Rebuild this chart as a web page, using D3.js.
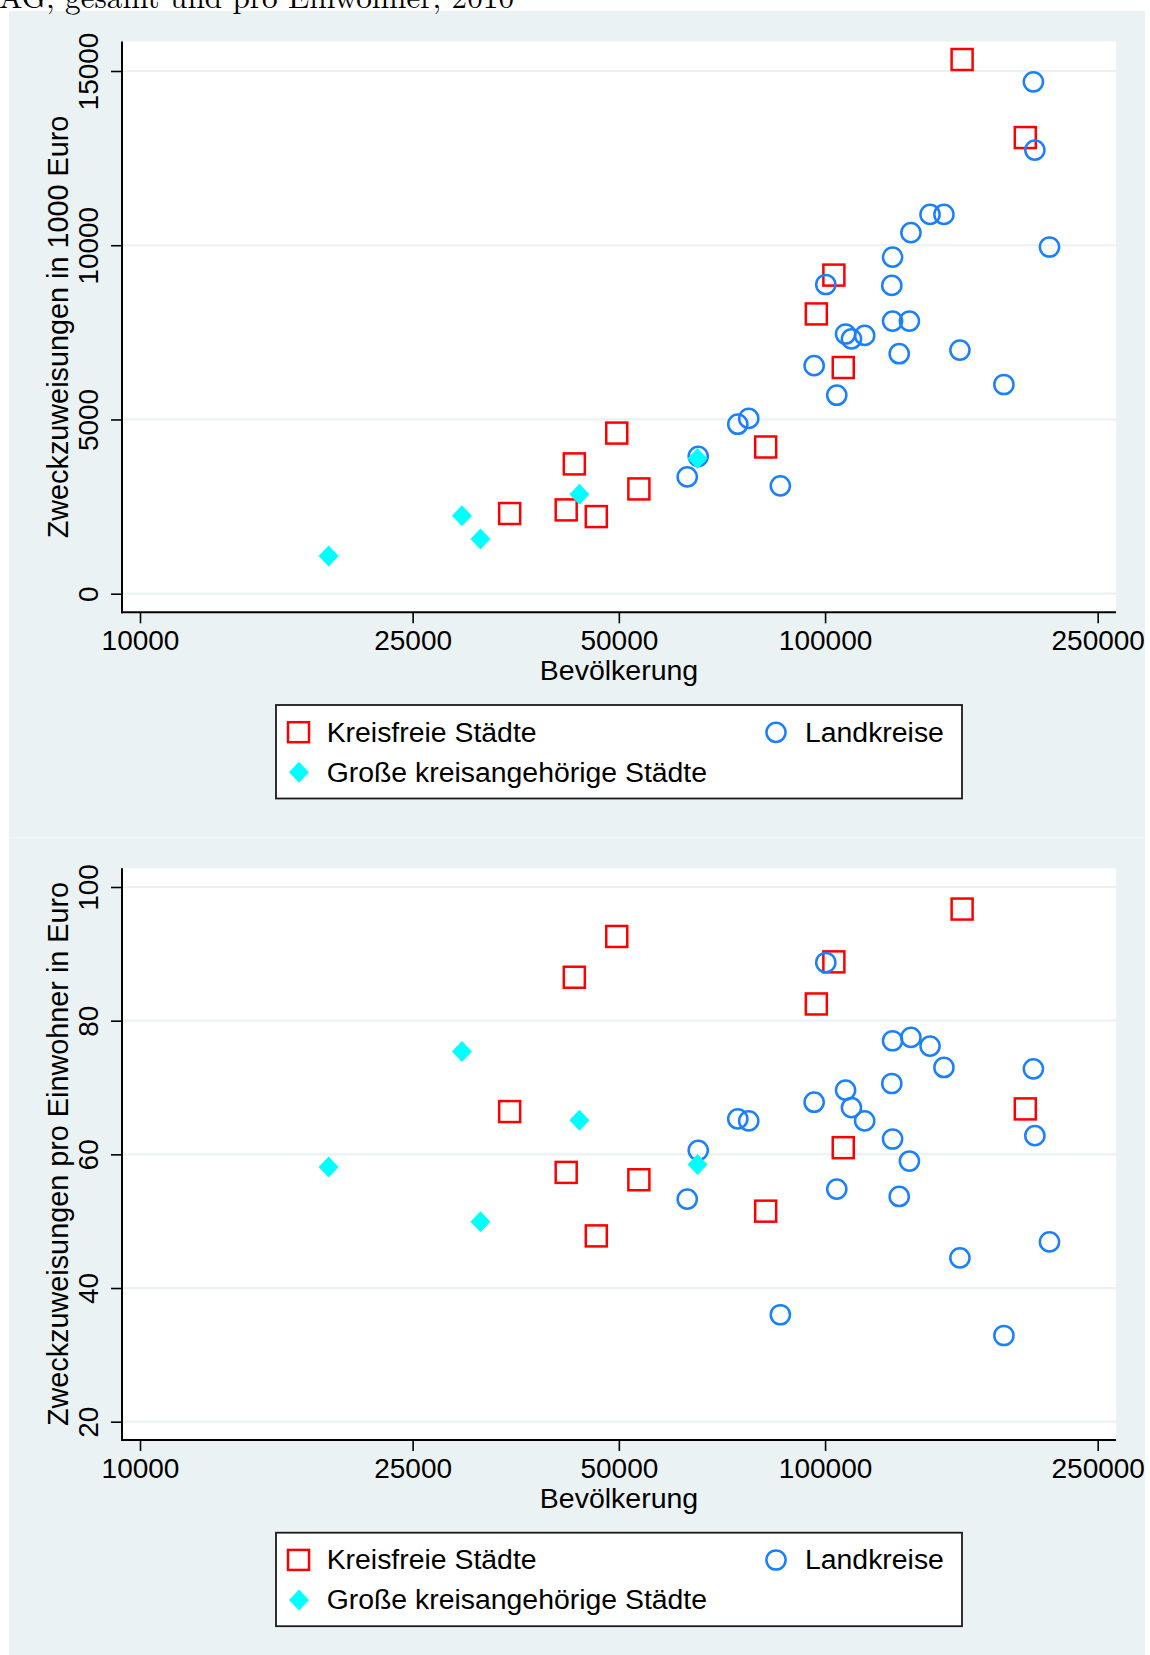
<!DOCTYPE html>
<html>
<head>
<meta charset="utf-8">
<script src="https://cdn.jsdelivr.net/npm/d3@7"></script>
<style>
  html, body { margin: 0; padding: 0; background: #ffffff; }
  svg { display: block; }
</style>
</head>
<body>
<svg id="chart" width="1150" height="1655"></svg>
<script>
// ---------------- data ----------------
const titleText = "AG, gesamt und pro Einwohner, 2010";
const seriesNames = ["Kreisfreie Städte", "Landkreise", "Große kreisangehörige Städte"];
const xTitle = "Bevölkerung";
const yTitleTop = "Zweckzuweisungen in 1000 Euro";
const yTitleBottom = "Zweckzuweisungen pro Einwohner in Euro";
const xTicks = [10000, 25000, 50000, 100000, 250000];
const yTicksTop = [0, 5000, 10000, 15000];
const yTicksBottom = [20, 40, 60, 80, 100];

// Kreisfreie Städte
const kfPop      = [158500, 196000, 103000, 97100, 106300, 49650, 43050, 81900, 53480, 34640, 41890, 46350];
const kfTotal    = [15330, 13090, 9143, 8029, 6491, 4609, 3725, 4210, 3007, 2301, 2405, 2213];
const kfPerCap   = [96.7, 66.8, 88.8, 82.5, 61.0, 92.6, 86.5, 51.5, 56.2, 66.4, 57.3, 47.8];

// Landkreise
const lkPop      = [201400, 202400, 212600, 142300, 149100, 133450, 125460, 100240, 125140, 125460, 132770, 107130,
                    109270, 114230, 128300, 157340, 96390, 104010, 182400, 74570, 77370, 65290, 62920, 86040];
const lkTotal    = [14690, 12730, 9949, 10885, 10885, 10360, 9657, 8873, 8847, 7823, 7823, 7453,
                    7312, 7412, 6887, 6991, 6543, 5696, 6003, 4864, 5031, 3943, 3352, 3096];
const lkPerCap   = [72.8, 62.8, 46.9, 76.2, 73.0, 77.5, 77.0, 88.7, 70.6, 62.3, 59.0, 69.6,
                    67.0, 65.0, 53.7, 44.5, 67.8, 54.8, 32.9, 65.3, 65.0, 60.6, 53.3, 36.0];

// Große kreisangehörige Städte
const gksPop     = [18850, 29510, 31400, 43790, 65130];
const gksTotal   = [1085, 2238, 1573, 2852, 3877];
const gksPerCap  = [58.1, 75.4, 49.9, 65.1, 58.5];

// ---------------- styles ----------------
const BG = "rgb(234,242,243)";
const GRID = "rgb(234,242,243)";
const RED = "#ff0000";
const BLUE = "#1a80ff";
const CYAN = "#00ffff";
const FONT = "'Liberation Sans', Arial, Helvetica, sans-serif";

const svg = d3.select("#chart");

// background panels
svg.append("rect").attr("x", 9).attr("y", 11).attr("width", 1136).attr("height", 826).attr("fill", BG);
svg.append("rect").attr("x", 9).attr("y", 838).attr("width", 1136).attr("height", 817).attr("fill", BG);
svg.append("rect").attr("x", 9).attr("y", 837).attr("width", 1136).attr("height", 1).attr("fill", "#f3f7f8");

// title (clipped at the top edge, as in the reference)
svg.append("text")
  .attr("x", -1).attr("y", 7.7)
  .attr("font-family", "'Latin Modern Roman', 'Liberation Serif', 'DejaVu Serif', serif")
  .attr("font-size", 31)
  .attr("textLength", 515)
  .attr("lengthAdjust", "spacingAndGlyphs")
  .attr("fill", "#000")
  .text(titleText);

const x = d3.scaleLog().domain([10000, 250000]).range([140, 1097.7]);

function drawPanel(opts) {
  const { top, bottom, y, yTicks, yTitle, yTitleY, data } = opts;
  const left = 122, right = 1116;
  const g = svg.append("g");

  g.append("rect").attr("x", left).attr("y", top).attr("width", right - left).attr("height", bottom - top)
    .attr("fill", "#ffffff");

  g.selectAll("line.grid").data(yTicks).enter().append("line")
    .attr("class", "grid")
    .attr("x1", left + 1).attr("x2", right)
    .attr("y1", d => y(d)).attr("y2", d => y(d))
    .attr("stroke", GRID).attr("stroke-width", 2.2);

  const yAxis = d3.axisLeft(y).tickValues(yTicks).tickFormat(d3.format("d")).tickSize(11).tickPadding(0);
  const ga = g.append("g").attr("transform", `translate(${left},0)`).call(yAxis);
  ga.select(".domain").remove();
  ga.selectAll(".tick line").attr("stroke", "#000").attr("stroke-width", 1.6);
  ga.selectAll(".tick text")
    .attr("x", null).attr("dy", null)
    .attr("transform", "translate(-24.3,0) rotate(-90)")
    .attr("text-anchor", "middle")
    .attr("font-family", FONT).attr("font-size", 28).attr("fill", "#000");

  const xAxis = d3.axisBottom(x).tickValues(xTicks).tickFormat(d3.format("d")).tickSize(11).tickPadding(0);
  const gx = g.append("g").attr("transform", `translate(0,${bottom})`).call(xAxis);
  gx.select(".domain").remove();
  gx.selectAll(".tick line").attr("stroke", "#000").attr("stroke-width", 1.6);
  gx.selectAll(".tick text")
    .attr("y", 37.7).attr("dy", null)
    .attr("font-family", FONT).attr("font-size", 28).attr("fill", "#000");

  g.append("line").attr("x1", left).attr("x2", left).attr("y1", top).attr("y2", bottom + 1)
    .attr("stroke", "#000").attr("stroke-width", 2);
  g.append("line").attr("x1", left - 1).attr("x2", right).attr("y1", bottom).attr("y2", bottom)
    .attr("stroke", "#000").attr("stroke-width", 2);

  g.append("text")
    .attr("transform", `translate(${(left + right) / 2},${bottom + 67.7})`)
    .attr("text-anchor", "middle")
    .attr("font-family", FONT).attr("font-size", 28.5).attr("fill", "#000")
    .text(xTitle);
  g.append("text")
    .attr("transform", `translate(67.5,${yTitleY}) rotate(-90)`)
    .attr("text-anchor", "middle")
    .attr("font-family", FONT).attr("font-size", 28.8).attr("fill", "#000")
    .text(yTitle);

  const s = 21;
  g.selectAll("rect.kf").data(data.kf).enter().append("rect")
    .attr("class", "kf")
    .attr("x", d => x(d[0]) - s / 2).attr("y", d => y(d[1]) - s / 2)
    .attr("width", s).attr("height", s)
    .attr("fill", "none").attr("stroke", RED).attr("stroke-width", 2.5);

  g.selectAll("circle.lk").data(data.lk).enter().append("circle")
    .attr("class", "lk")
    .attr("cx", d => x(d[0])).attr("cy", d => y(d[1])).attr("r", 9.6)
    .attr("fill", "none").attr("stroke", BLUE).attr("stroke-width", 2.5);

  const diamond = (cx, cy, r) => `M${cx},${cy - r}L${cx + r * 0.95},${cy}L${cx},${cy + r}L${cx - r * 0.95},${cy}Z`;
  g.selectAll("path.gks").data(data.gks).enter().append("path")
    .attr("class", "gks")
    .attr("d", d => diamond(x(d[0]), y(d[1]), 10.5))
    .attr("fill", CYAN);

  const ly = bottom + 92.7;
  const lg = g.append("g").attr("transform", `translate(0,${ly})`);
  lg.append("rect").attr("x", 276).attr("y", 0).attr("width", 686).attr("height", 93.5)
    .attr("fill", "#fff").attr("stroke", "#1a1a1a").attr("stroke-width", 1.8);
  lg.append("rect").attr("x", 288).attr("y", 17.2).attr("width", 21).attr("height", 20)
    .attr("fill", "none").attr("stroke", RED).attr("stroke-width", 2.5);
  lg.append("path").attr("d", diamond(299, 67.3, 10.5)).attr("fill", CYAN);
  lg.append("circle").attr("cx", 776).attr("cy", 27.3).attr("r", 9.6)
    .attr("fill", "none").attr("stroke", BLUE).attr("stroke-width", 2.5);
  const lt = [[326.7, 36.7, seriesNames[0]], [805, 36.7, seriesNames[1]], [326.7, 76.7, seriesNames[2]]];
  lt.forEach(t => {
    lg.append("text").attr("x", t[0]).attr("y", t[1])
      .attr("font-family", FONT).attr("font-size", 28.4).attr("fill", "#000").text(t[2]);
  });
}

const zipPts = (a, b) => a.map((v, i) => [v, b[i]]);

drawPanel({
  top: 41.5, bottom: 612.3,
  y: d3.scaleLinear().domain([0, 15000]).range([593.7, 71]),
  yTicks: yTicksTop, yTitle: yTitleTop, yTitleY: 327,
  data: { kf: zipPts(kfPop, kfTotal), lk: zipPts(lkPop, lkTotal), gks: zipPts(gksPop, gksTotal) }
});

drawPanel({
  top: 868.3, bottom: 1440,
  y: d3.scaleLinear().domain([20, 100]).range([1421.7, 887]),
  yTicks: yTicksBottom, yTitle: yTitleBottom, yTitleY: 1154,
  data: { kf: zipPts(kfPop, kfPerCap), lk: zipPts(lkPop, lkPerCap), gks: zipPts(gksPop, gksPerCap) }
});
</script>
</body>
</html>
